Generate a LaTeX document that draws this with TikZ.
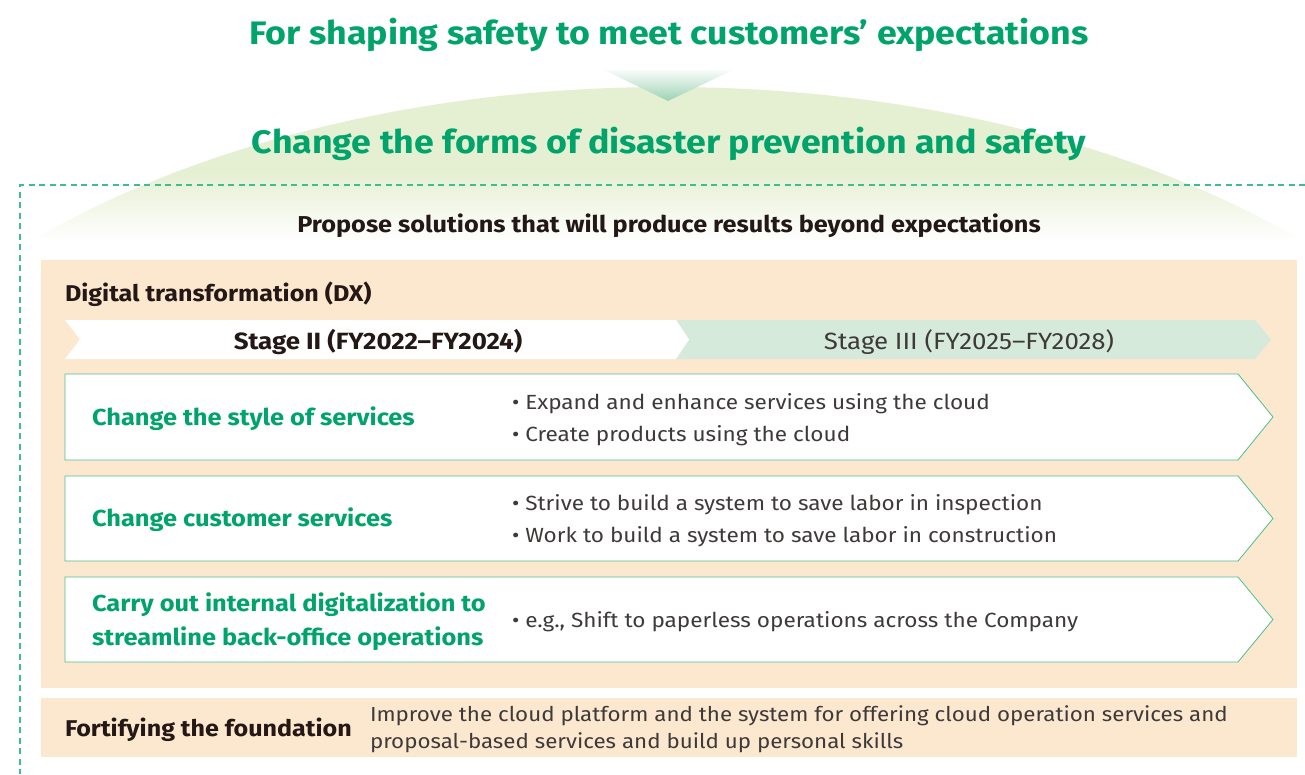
\documentclass[tikz,border=0pt]{standalone}
\usepackage{fontspec}
\setmainfont{Fira Sans}[FakeStretch=1.1]
\definecolor{tgreen}{RGB}{0,164,106}
\definecolor{dashgreen}{RGB}{60,190,142}
\definecolor{peach}{RGB}{252,231,207}
\definecolor{domecol}{RGB}{229,239,210}
\definecolor{arrowgreen}{RGB}{156,210,180}
\definecolor{stagegreen}{RGB}{213,234,218}
\definecolor{boxborder}{RGB}{76,192,140}
\definecolor{darktext}{RGB}{35,24,21}
\definecolor{graytext}{RGB}{62,58,57}
\begin{document}
\begin{tikzpicture}[x=1pt,y=-1pt,
  every node/.style={inner sep=0pt, outer sep=0pt, yshift=-2pt},
  titletext/.style={text=tgreen, font=\fontsize{32.5}{38}\selectfont\bfseries},
  proposetext/.style={text=darktext, font=\fontsize{23}{28}\selectfont\bfseries},
  headtext/.style={text=darktext, font=\fontsize{22.8}{27}\selectfont\bfseries, anchor=west},
  greenhead/.style={text=tgreen, font=\fontsize{23.1}{34}\selectfont\bfseries, anchor=west, align=left},
  bullettext/.style={text=graytext, font=\fontsize{20.5}{32}\selectfont, anchor=west, align=left},
  boxshape/.style={draw=boxborder, line width=0.8pt, fill=white},
]
\useasboundingbox (0,0) rectangle (1305,774);
\fill[white] (0,0) rectangle (1305,774);
% dome
\begin{scope}
  \clip (667,600) ellipse [x radius=890, y radius=513];
  \clip (0,0) rectangle (1305,241);
  \fill[domecol] (0,80) rectangle (1305,172);
  \shade[top color=domecol, bottom color=white] (0,171) rectangle (1305,241);
\end{scope}
% arrow triangle
\shade[top color=white, bottom color=arrowgreen] (600,68) -- (737,68) -- (668,101) -- cycle;
% titles
\node[titletext] (t1) at (669,33) {For shaping safety to meet customers’ expectations};
\node[titletext] (t2) at (669,142) {Change the forms of disaster prevention and safety};
% dashed frame
\draw[dashgreen, line width=1.3pt, dash pattern=on 6pt off 4.5pt] (1305,185) -- (20,185) -- (20,774);
\node[proposetext] (prop) at (669,224) {Propose solutions that will produce results beyond expectations};
% peach panels
\fill[peach] (41,260) rectangle (1297,688);
\fill[peach] (41,698) rectangle (1297,757);
\node[headtext] (dx) at (65,292) {Digital transformation (DX)};
% stage bar
\fill[stagegreen] (676,320) -- (1255,320) -- (1271,339.5) -- (1255,359) -- (676,359) -- (689,339.5) -- cycle;
\fill[white] (65,320) -- (676,320) -- (689,339.5) -- (676,359) -- (65,359) -- (80,339.5) -- cycle;
\node[text=darktext, font=\fontsize{23.5}{28}\selectfont\bfseries] (s2) at (378,340) {Stage II (FY2022–FY2024)};
\node[text=graytext, font=\fontsize{23.5}{28}\selectfont] (s3) at (969,340) {Stage III (FY2025–FY2028)};
% boxes
\draw[boxshape] (65,374) -- (1238,374) -- (1273,417) -- (1238,460) -- (65,460) -- cycle;
\draw[boxshape] (65,476) -- (1238,476) -- (1273,518.5) -- (1238,561) -- (65,561) -- cycle;
\draw[boxshape] (65,577) -- (1238,577) -- (1273,619.5) -- (1238,662) -- (65,662) -- cycle;
\node[greenhead] (h1) at (92,417) {Change the style of services};
\node[bullettext] (b1) at (512,418) {• Expand and enhance services using the cloud\\• Create products using the cloud};
\node[greenhead] (h2) at (92,518) {Change customer services};
\node[bullettext] (b2) at (512,519) {• Strive to build a system to save labor in inspection\\• Work to build a system to save labor in construction};
\node[greenhead] (h3) at (92,620) {Carry out internal digitalization to\\streamline back-office operations};
\node[bullettext] (b3) at (512,620) {• e.g., Shift to paperless operations across the Company};
% foundation
\node[headtext] (f) at (65,728) {Fortifying the foundation};
\node[text=graytext, font=\fontsize{20.3}{27}\selectfont, anchor=west, align=left] (ft) at (370,727) {Improve the cloud platform and the system for offering cloud operation services and\\proposal-based services and build up personal skills};
\end{tikzpicture}
\end{document}
